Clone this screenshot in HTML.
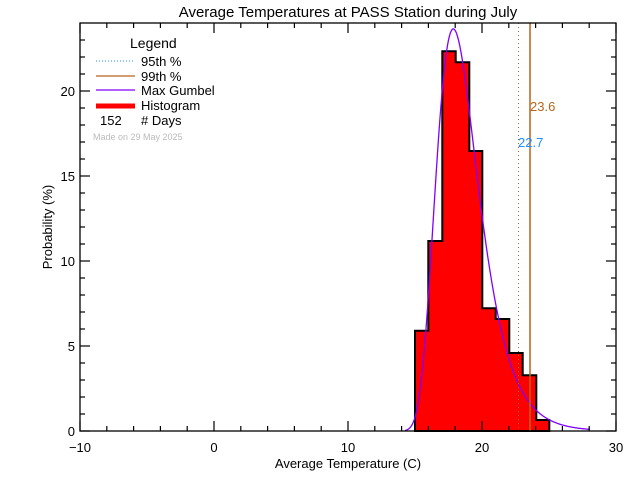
<html><body style="margin:0;background:#fff">
<svg id="s" width="640" height="480" xmlns="http://www.w3.org/2000/svg" font-family="Liberation Sans, DejaVu Sans, sans-serif">
<rect width="640" height="480" fill="#fff"/>
<text x="348" y="17" font-size="15" text-anchor="middle">Average Temperatures at PASS Station during July</text>
<g id="bars" fill="#f00" stroke="#000" stroke-width="2"></g>
<polyline id="g" fill="none" stroke="#8000ff" stroke-width="1.3"/>
<line x1="518.5" y1="23" x2="518.5" y2="431" stroke="#a0622d" stroke-dasharray="1,3"/>
<line x1="530" y1="23" x2="530" y2="431" stroke="#b5651d" stroke-width="1.5"/>
<text x="530" y="111" font-size="13" fill="#b5651d">23.6</text>
<text x="518" y="147" font-size="13" fill="#1e90ff">22.7</text>
<rect x="80" y="23" width="536" height="408" fill="none" stroke="#000" stroke-width="1.3"/>
<g id="t" stroke="#000" stroke-width="1.2"></g>
<g font-size="13" text-anchor="middle">
<text x="80" y="452">−10</text><text x="214" y="452">0</text><text x="348" y="452">10</text><text x="482" y="452">20</text><text x="616" y="452">30</text>
</g>
<g font-size="13" text-anchor="end">
<text x="75" y="436">0</text><text x="75" y="351">5</text><text x="75" y="266">10</text><text x="75" y="181">15</text><text x="75" y="96">20</text>
</g>
<text x="348" y="468" font-size="13" text-anchor="middle">Average Temperature (C)</text>
<text transform="translate(52,227) rotate(-90)" font-size="13" text-anchor="middle">Probability    (%)</text>
<text x="130" y="48" font-size="14">Legend</text>
<line x1="96" y1="61" x2="135" y2="61" stroke="#1e90ff" stroke-dasharray="1,2"/>
<line x1="96" y1="76" x2="135" y2="76" stroke="#b5651d" stroke-width="1.3"/>
<line x1="96" y1="90" x2="135" y2="90" stroke="#8000ff" stroke-width="1.3"/>
<line x1="96" y1="106" x2="135" y2="106" stroke="#f00" stroke-width="5"/>
<g font-size="13"><text x="141" y="66">95th %</text><text x="141" y="81">99th %</text><text x="141" y="95">Max Gumbel</text><text x="141" y="110">Histogram</text><text x="100" y="125">152</text><text x="141" y="125"># Days</text></g>
<text x="93" y="140" font-size="9" fill="#bbb">Made on 29 May 2025</text>
</svg>
<script>
var ns="http://www.w3.org/2000/svg";
var e=[415,428.3,442.3,455.7,469.3,482.3,495.7,509.3,522.7,536.3,549.3],h=[330.7,241,51.3,62.3,151,308.3,319,353,375.3,420];
var d="M415 431";for(var i=0;i<10;i++){d+=" L"+e[i]+" "+h[i]+" L"+e[i+1]+" "+h[i];}d+=" L549.3 431Z";
var p=document.createElementNS(ns,"path");p.setAttribute("d",d);document.getElementById("bars").appendChild(p);
var pts=[];for(var x=405;x<=590;x+=0.5){var z=(x-453.3)/21;var y=431-1093*Math.exp(-(z+Math.exp(-z)));pts.push(x+","+y.toFixed(1));}
document.getElementById("g").setAttribute("points",pts.join(" "));
var t=document.getElementById("t");function L(a,b,c,dd){var l=document.createElementNS(ns,"line");l.setAttribute("x1",a);l.setAttribute("y1",b);l.setAttribute("x2",c);l.setAttribute("y2",dd);t.appendChild(l);}
for(var v=-10;v<=30;v+=2){var x=80+(v+10)*13.4,m=(v%10==0)?10:5;L(x,431,x,431-m);L(x,23,x,23+m);}
for(var v=0;v<=23;v++){var y=431-v*17,m=(v%5==0)?10:5;L(80,y,80+m,y);L(616,y,616-m,y);}
</script>
</body></html>
